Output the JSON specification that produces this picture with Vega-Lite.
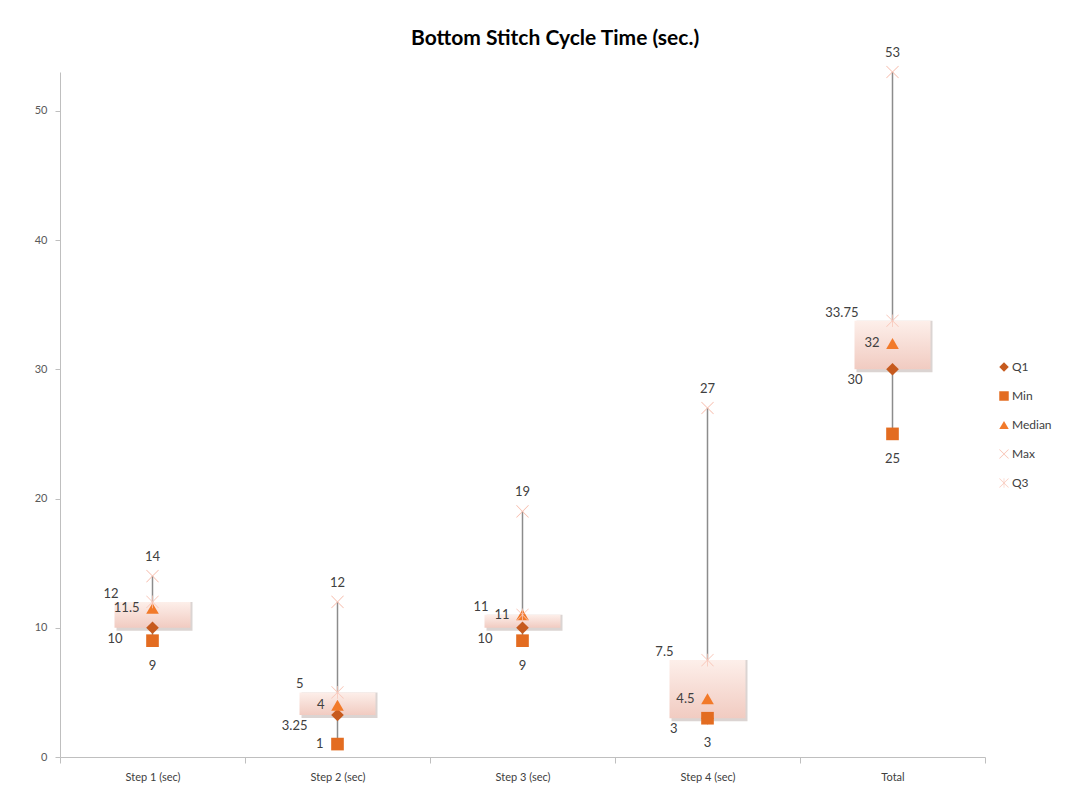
{
  "$schema": "https://vega.github.io/schema/vega-lite/v6.json",
  "width": 925,
  "height": 685,
  "padding": {"left": 34, "top": 28, "right": 10, "bottom": 5},
  "background": "white",
  "title": {"text": "Bottom Stitch Cycle Time (sec.)", "font": "Lato", "fontSize": 21, "fontWeight": "bold", "color": "#000000", "anchor": "middle", "frame": "bounds", "offset": -2, "dx": 12},
  "config": {"view": {"stroke": null}, "font": "Lato"},
  "data": {"values": [
    {"step": "Step 1 (sec)", "Q1": 10, "Min": 9, "Median": 11.5, "Max": 14, "Q3": 12},
    {"step": "Step 2 (sec)", "Q1": 3.25, "Min": 1, "Median": 4, "Max": 12, "Q3": 5},
    {"step": "Step 3 (sec)", "Q1": 10, "Min": 9, "Median": 11, "Max": 19, "Q3": 11},
    {"step": "Step 4 (sec)", "Q1": 3, "Min": 3, "Median": 4.5, "Max": 27, "Q3": 7.5},
    {"step": "Total", "Q1": 30, "Min": 25, "Median": 32, "Max": 53, "Q3": 33.75}
  ]},
  "encoding": {
    "x": {"field": "step", "type": "nominal", "sort": null,
      "axis": {"title": null, "labelAngle": 0, "tickBand": "extent", "domainColor": "#bfbfbf", "tickColor": "#bfbfbf", "labelColor": "#404040", "labelFontSize": 11, "labelPadding": 8, "tickSize": 6}}
  },
  "layer": [
    {"mark": {"type": "rule", "color": "#8c8c8c", "strokeWidth": 1.5},
     "encoding": {"y": {"field": "Min", "type": "quantitative", "scale": {"domain": [0, 53], "nice": false, "zero": true}, "axis": {"title": null, "values": [0, 10, 20, 30, 40, 50], "grid": false, "domainColor": "#bfbfbf", "tickColor": "#bfbfbf", "labelColor": "#595959", "labelFontSize": 11, "tickSize": 5, "labelPadding": 8}}, "y2": {"field": "Max"}}},
    {"mark": {"type": "bar", "width": 76, "color": "#b0a09c", "opacity": 0.45, "xOffset": 2, "yOffset": 3},
     "encoding": {"y": {"field": "Q1", "type": "quantitative"}, "y2": {"field": "Q3"}}},
    {"mark": {"type": "bar", "width": 76, "color": {"gradient": "linear", "x1": 0, "y1": 0, "x2": 0, "y2": 1, "stops": [{"offset": 0, "color": "#fdefea"}, {"offset": 1, "color": "#f1cbc1"}]}},
     "encoding": {"y": {"field": "Q1", "type": "quantitative"}, "y2": {"field": "Q3"}}},
    {"transform": [{"fold": ["Q1", "Min", "Median", "Max", "Q3"], "as": ["stat", "val"]}],
     "mark": {"type": "point", "filled": true, "opacity": 1, "size": 160},
     "encoding": {
       "y": {"field": "val", "type": "quantitative"},
       "shape": {"field": "stat", "type": "nominal", "scale": {"domain": ["Q1", "Min", "Median", "Max", "Q3"], "range": ["diamond", "square", "triangle-up", "M-1,-0.92L-0.92,-1L0,-0.08L0.92,-1L1,-0.92L0.08,0L1,0.92L0.92,1L0,0.08L-0.92,1L-1,0.92L-0.08,0Z", "M-1,-0.92L-0.92,-1L0,-0.08L0.92,-1L1,-0.92L0.08,0L1,0.92L0.92,1L0,0.08L-0.92,1L-1,0.92L-0.08,0ZM-0.06,-1L0.06,-1L0.06,1L-0.06,1Z"]},
         "legend": {"title": null, "orient": "none", "legendX": 938, "legendY": 289, "labelFont": "Lato", "labelFontSize": 12, "labelColor": "#404040", "symbolSize": 90, "rowPadding": 17, "labelOffset": 2}},
       "color": {"field": "stat", "type": "nominal", "scale": {"domain": ["Q1", "Min", "Median", "Max", "Q3"], "range": ["#c65a1e", "#e36c21", "#f27a2a", "#f6b9a8", "#f8c6b8"]}}
     }},
    {"transform": [{"fold": ["Max"], "as": ["stat", "val"]}],
     "mark": {"type": "text", "dy": -19, "fontSize": 13, "color": "#404040"},
     "encoding": {"y": {"field": "val", "type": "quantitative"}, "text": {"field": "val", "type": "quantitative"}}},
    {"transform": [{"fold": ["Q3"], "as": ["stat", "val"]}],
     "mark": {"type": "text", "align": "right", "dx": -34, "dy": -8, "fontSize": 13, "color": "#404040"},
     "encoding": {"y": {"field": "val", "type": "quantitative"}, "text": {"field": "val", "type": "quantitative"}}},
    {"transform": [{"fold": ["Median"], "as": ["stat", "val"]}],
     "mark": {"type": "text", "align": "right", "dx": -13, "dy": 0, "fontSize": 13, "color": "#404040"},
     "encoding": {"y": {"field": "val", "type": "quantitative"}, "text": {"field": "val", "type": "quantitative"}}},
    {"transform": [{"fold": ["Q1"], "as": ["stat", "val"]}],
     "mark": {"type": "text", "align": "right", "dx": -30, "dy": 11, "fontSize": 13, "color": "#404040"},
     "encoding": {"y": {"field": "val", "type": "quantitative"}, "text": {"field": "val", "type": "quantitative"}}},
    {"transform": [{"fold": ["Min"], "as": ["stat", "val"]}, {"filter": "datum.val >= 2"}],
     "mark": {"type": "text", "dy": 25, "fontSize": 13, "color": "#404040"},
     "encoding": {"y": {"field": "val", "type": "quantitative"}, "text": {"field": "val", "type": "quantitative"}}},
    {"transform": [{"fold": ["Min"], "as": ["stat", "val"]}, {"filter": "datum.val < 2"}],
     "mark": {"type": "text", "align": "right", "dx": -14, "dy": 0, "fontSize": 13, "color": "#404040"},
     "encoding": {"y": {"field": "val", "type": "quantitative"}, "text": {"field": "val", "type": "quantitative"}}}
  ]
}
